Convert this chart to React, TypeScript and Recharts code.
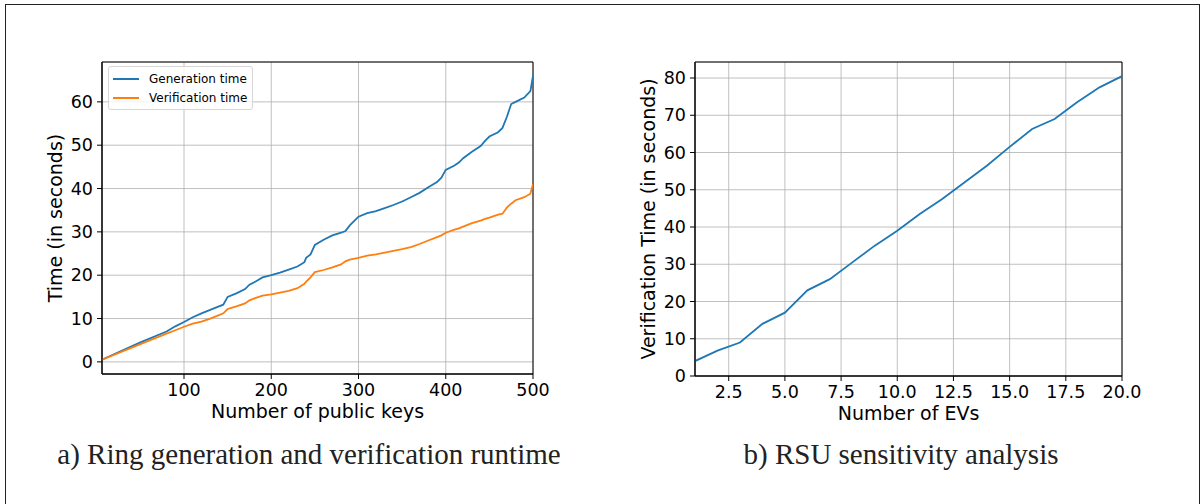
import { LineChart, Line, XAxis, YAxis, CartesianGrid, Legend, ReferenceArea, Label } from 'recharts';

const publicKeys = [6, 50, 80, 90, 100, 110, 120, 130, 140, 145, 150, 160, 170, 175, 180, 190, 200, 210, 220, 230, 238, 240, 245, 250, 260, 270, 280, 285, 290, 300, 310, 320, 330, 340, 350, 360, 370, 380, 390, 395, 400, 410, 415, 420, 430, 440, 445, 450, 460, 465, 470, 475, 480, 490, 497, 500];
const generationTime = [0.5, 4.5, 7.0, 8.2, 9.2, 10.3, 11.2, 12.0, 12.8, 13.2, 15.0, 15.8, 16.8, 17.8, 18.3, 19.5, 20.0, 20.6, 21.3, 22.0, 23.0, 24.0, 24.8, 27.0, 28.2, 29.2, 29.8, 30.2, 31.5, 33.5, 34.3, 34.8, 35.5, 36.2, 37.0, 38.0, 39.0, 40.3, 41.5, 42.5, 44.3, 45.3, 46.0, 47.0, 48.5, 49.8, 51.0, 52.0, 53.0, 54.0, 56.5, 59.5, 60.0, 61.0, 62.5, 66.0];
const verificationTime = [0.5, 4.1, 6.5, 7.3, 8.1, 8.8, 9.3, 10.0, 10.8, 11.2, 12.2, 12.8, 13.5, 14.2, 14.6, 15.3, 15.6, 16.0, 16.4, 17.0, 18.0, 18.5, 19.5, 20.7, 21.2, 21.8, 22.5, 23.2, 23.6, 24.0, 24.5, 24.8, 25.2, 25.6, 26.0, 26.5, 27.2, 28.0, 28.8, 29.2, 29.8, 30.5, 30.8, 31.2, 32.0, 32.6, 33.0, 33.3, 34.0, 34.2, 35.6, 36.5, 37.3, 38.0, 38.8, 41.0];

const evCounts = [1, 2, 3, 4, 5, 6, 7, 8, 9, 10, 11, 12, 13, 14, 15, 16, 17, 18, 19, 20];
const evVerificationTime = [4.0, 6.8, 9.0, 14.0, 17.0, 23.0, 26.0, 30.5, 35.0, 39.0, 43.5, 47.5, 52.0, 56.5, 61.5, 66.3, 69.0, 73.5, 77.5, 80.5];

const keyTicks = [100, 200, 300, 400, 500];
const timeTicks = [0, 10, 20, 30, 40, 50, 60];
const evTicks = [2.5, 5, 7.5, 10, 12.5, 15, 17.5, 20];
const evTimeTicks = [0, 10, 20, 30, 40, 50, 60, 70, 80];

const ringData = publicKeys.map((k, i) => ({ keys: k, gen: generationTime[i], ver: verificationTime[i] }));
const rsuData = evCounts.map((n, i) => ({ evs: n, time: evVerificationTime[i] }));

const FONT = 'DejaVu Sans, sans-serif';
const tickStyle = { fontSize: 17.5, fill: '#000', fontFamily: FONT };
const labelStyle = { fontSize: 19, fill: '#000', fontFamily: FONT, textAnchor: 'middle' as const };

// matplotlib-ish legend box in the upper-left corner
const renderLegend = (props: any) => (
  <div
    style={{
      border: '1px solid #d6d6d6',
      borderRadius: 3,
      background: 'rgba(255,255,255,0.8)',
      padding: '2px 5px 2px 4px',
      fontFamily: FONT,
      fontSize: 12,
      color: '#000',
    }}
  >
    {props.payload.map((p: any) => (
      <div key={p.value} style={{ display: 'flex', alignItems: 'center', height: 19 }}>
        <span style={{ display: 'inline-block', width: 26, height: 2, background: p.color, marginRight: 10 }} />
        <span>{p.value}</span>
      </div>
    ))}
  </div>
);

export default function App() {
  return (
    <div style={{ position: 'absolute', left: 0, top: 0, width: 1202, height: 504, overflow: 'hidden', background: '#fff' }}>
      <div style={{ position: 'absolute', left: 5, top: 4, width: 1193, height: 520, border: '1.5px solid #222' }} />

      <div style={{ position: 'absolute', left: 0, top: 0 }}>
        <LineChart width={560} height={440} data={ringData} margin={{ top: 62, right: 27, bottom: 0, left: 0 }}>
          <CartesianGrid stroke="#b0b0b0" strokeWidth={0.8} />
          <XAxis
            type="number"
            dataKey="keys"
            domain={[6, 500]}
            ticks={keyTicks}
            allowDataOverflow
            height={66}
            tick={tickStyle}
            tickSize={5}
            tickMargin={5}
            stroke="#000"
          >
            <Label value="Number of public keys" position="insideBottom" offset={22} style={labelStyle} />
          </XAxis>
          <YAxis
            type="number"
            domain={[-2.8, 69.2]}
            ticks={timeTicks}
            allowDataOverflow
            width={102}
            tick={tickStyle}
            tickSize={5}
            tickMargin={4}
            stroke="#000"
          >
            <Label value="Time (in seconds)" angle={-90} position="insideLeft" offset={55} style={labelStyle} />
          </YAxis>
          <Line type="linear" dataKey="gen" name="Generation time" stroke="#1f77b4" strokeWidth={1.8} dot={false} isAnimationActive={false} />
          <Line type="linear" dataKey="ver" name="Verification time" stroke="#ff7f0e" strokeWidth={1.8} dot={false} isAnimationActive={false} />
          <ReferenceArea x1={6} x2={500} y1={-2.8} y2={69.2} fill="none" stroke="#000" strokeWidth={1} ifOverflow="visible" />
          <Legend
            layout="vertical"
            align="center"
            verticalAlign="middle"
            content={renderLegend}
            wrapperStyle={{ left: 108, top: 66, width: 'auto', height: 'auto', bottom: 'auto', right: 'auto' }}
          />
        </LineChart>
      </div>

      <div style={{ position: 'absolute', left: 600, top: 0 }}>
        <LineChart width={560} height={440} data={rsuData} margin={{ top: 62, right: 38, bottom: 0, left: 0 }}>
          <CartesianGrid stroke="#b0b0b0" strokeWidth={0.8} />
          <XAxis
            type="number"
            dataKey="evs"
            domain={[1, 20]}
            ticks={evTicks}
            allowDataOverflow
            height={64}
            tick={tickStyle}
            tickFormatter={(v: number) => v.toFixed(1)}
            tickSize={5}
            tickMargin={5}
            stroke="#000"
          >
            <Label value="Number of EVs" position="insideBottom" offset={20} style={labelStyle} />
          </XAxis>
          <YAxis
            type="number"
            domain={[0, 84.3]}
            ticks={evTimeTicks}
            allowDataOverflow
            width={95}
            tick={tickStyle}
            tickSize={5}
            tickMargin={4}
            stroke="#000"
          >
            <Label value="Verification Time (in seconds)" angle={-90} position="insideLeft" offset={48} style={labelStyle} />
          </YAxis>
          <Line type="linear" dataKey="time" stroke="#1f77b4" strokeWidth={1.8} dot={false} isAnimationActive={false} />
          <ReferenceArea x1={1} x2={20} y1={0} y2={84.3} fill="none" stroke="#000" strokeWidth={1} ifOverflow="visible" />
        </LineChart>
      </div>

      <div style={{ position: 'absolute', left: 0, width: 618, top: 438, textAlign: 'center', fontFamily: 'Liberation Serif, serif', fontSize: 29, color: '#222' }}>
        a) Ring generation and verification runtime
      </div>
      <div style={{ position: 'absolute', left: 600, width: 602, top: 438, textAlign: 'center', fontFamily: 'Liberation Serif, serif', fontSize: 29, color: '#222' }}>
        b) RSU sensitivity analysis
      </div>
    </div>
  );
}
